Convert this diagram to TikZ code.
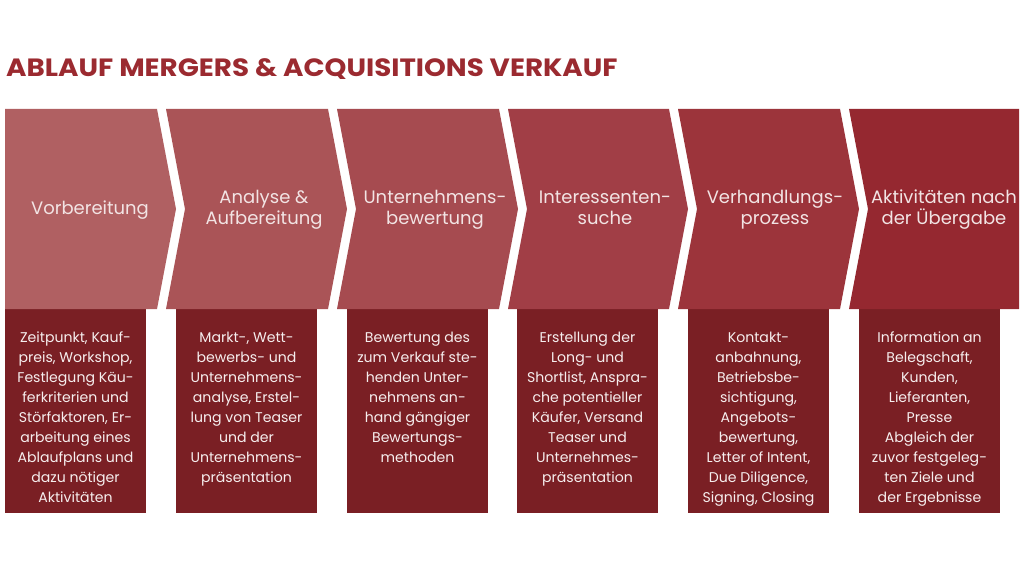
\documentclass[tikz,border=0pt]{standalone}
\usepackage{fontspec}
\setmainfont{Poppins}
\definecolor{titlec}{HTML}{9B2A30}
\definecolor{chA}{HTML}{B06062}
\definecolor{chB}{HTML}{AA5457}
\definecolor{chC}{HTML}{A64B50}
\definecolor{chD}{HTML}{A13E46}
\definecolor{chE}{HTML}{9C343B}
\definecolor{chF}{HTML}{952830}
\definecolor{boxc}{HTML}{7A1F24}
\definecolor{chtext}{HTML}{F2E4E4}
\definecolor{boxtext}{HTML}{F6EEEE}
\begin{document}
\begin{tikzpicture}[x=1pt,y=-1pt,
  chlabel/.style={align=center,text=chtext,inner sep=0pt,anchor=base,font=\fontsize{18}{21}\selectfont},
  boxlabel/.style={align=center,text=boxtext,inner sep=0pt,anchor=north,font=\fontsize{14.1}{20}\selectfont},
]
\useasboundingbox (0,0) rectangle (1024,567);
\fill[white] (0,0) rectangle (1024,567);
\node[anchor=base west,inner sep=0pt,text=titlec,font=\fontsize{25}{28}\selectfont\bfseries] (title) at (6,77) {\scalebox{1.11}[1]{ABLAUF MERGERS \& ACQUISITIONS VERKAUF}};
% description boxes
\foreach \l/\n in {5/b1,176/b2,347/b3,517/b4,688/b5,859/b6}{
  \fill[boxc] (\l,306) rectangle ++(141,207);
}
% chevrons
\fill[chA] (5,109) -- (157,109) -- (176,209) -- (157,309) -- (5,309) -- cycle;
\fill[chB] (166,109) -- (328,109) -- (347,209) -- (328,309) -- (166,309) -- (185,209) -- cycle;
\fill[chC] (337,109) -- (499,109) -- (518,209) -- (499,309) -- (337,309) -- (356,209) -- cycle;
\fill[chD] (508,109) -- (669,109) -- (688,209) -- (669,309) -- (508,309) -- (527,209) -- cycle;
\fill[chE] (678,109) -- (840,109) -- (859,209) -- (840,309) -- (678,309) -- (697,209) -- cycle;
\fill[chF] (849,109) -- (1019,109) -- (1019,309) -- (849,309) -- (868,209) -- cycle;
% chevron labels (anchor = baseline of last line)
\node[chlabel] (c1) at (90,214) {Vorbereitung};
\node[chlabel] (c2) at (264,224) {Analyse \&\\Aufbereitung};
\node[chlabel] (c3) at (435,224) {Unternehmens-\\bewertung};
\node[chlabel] (c4) at (605,224) {Interessenten-\\suche};
\node[chlabel] (c5) at (775,224) {Verhandlungs-\\prozess};
\node[chlabel] (c6) at (944,224) {Aktivitäten nach\\der Übergabe};
% box labels
\node[boxlabel] (t1) at (75.5,331.5) {Zeitpunkt, Kauf-\\preis, Workshop,\\Festlegung Käu-\\ferkriterien und\\Störfaktoren, Er-\\arbeitung eines\\Ablaufplans und\\dazu nötiger\\Aktivitäten};
\node[boxlabel] (t2) at (246.5,331.5) {Markt-, Wett-\\bewerbs- und\\Unternehmens-\\analyse, Erstel-\\lung von Teaser\\und der\\Unternehmens-\\präsentation};
\node[boxlabel] (t3) at (417.5,331.5) {Bewertung des\\zum Verkauf ste-\\henden Unter-\\nehmens an-\\hand gängiger\\Bewertungs-\\methoden};
\node[boxlabel] (t4) at (587.5,331.5) {Erstellung der\\Long- und\\Shortlist, Anspra-\\che potentieller\\Käufer, Versand\\Teaser und\\Unternehmes-\\präsentation};
\node[boxlabel] (t5) at (758.5,331.5) {Kontakt-\\anbahnung,\\Betriebsbe-\\sichtigung,\\Angebots-\\bewertung,\\Letter of Intent,\\Due Diligence,\\Signing, Closing};
\node[boxlabel] (t6) at (929.5,331.5) {Information an\\Belegschaft,\\Kunden,\\Lieferanten,\\Presse\\Abgleich der\\zuvor festgeleg-\\ten Ziele und\\der Ergebnisse};
\end{tikzpicture}
\end{document}
